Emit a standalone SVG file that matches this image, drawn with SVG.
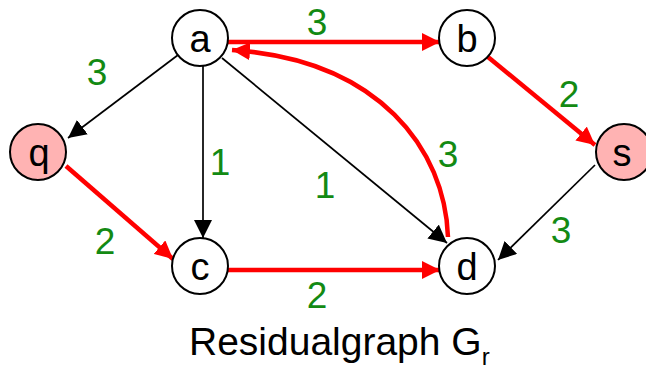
<svg xmlns="http://www.w3.org/2000/svg" width="646" height="373" viewBox="0 0 646 373">
<style>
.node{fill:#fff;stroke:#000;stroke-width:2}
.src{fill:#FFB3B3}
.nl{font-family:"Liberation Sans",Arial,sans-serif;font-size:38px;fill:#000;text-anchor:middle}
.el{font-family:"Liberation Sans",Arial,sans-serif;font-size:37px;fill:#138A13;text-anchor:middle}
.blk{stroke:#000;stroke-width:1.7;fill:none;marker-end:url(#ab)}
.red{stroke:#FF0000;stroke-width:4.5;fill:none;marker-end:url(#ar)}
</style>
<defs>
<marker id="ab" viewBox="0 0 18 18" refX="18" refY="9" markerWidth="18" markerHeight="18" markerUnits="userSpaceOnUse" orient="auto"><path d="M0,0 L18,9 L0,18 z" fill="#000"/></marker>
<marker id="ar" viewBox="0 0 18 18" refX="18" refY="9" markerWidth="18" markerHeight="18" markerUnits="userSpaceOnUse" orient="auto"><path d="M0,0 L18,9 L0,18 z" fill="#FF0000"/></marker>
</defs>
<rect width="646" height="373" fill="#fff"/>
<g id="connectors">
<path class="blk" d="M178,55 L68,138"/>
<path class="blk" d="M203,66 L203,238"/>
<path class="blk" d="M222,58 L447,243"/>
<path class="blk" d="M595,165 L498,260"/>
<path class="red" d="M228,42 L440,42"/>
<path class="red" d="M448,237 C445,150 380,60 232,50"/>
<path class="red" d="M66,166 L173,259"/>
<path class="red" d="M488,57 L595,145"/>
<path class="red" d="M228,270 L440,270"/>
</g>
<g id="labels">
<text class="el" x="317" y="35">3</text>
<text class="el" x="97" y="85">3</text>
<text class="el" x="220" y="175">1</text>
<text class="el" x="105" y="254">2</text>
<text class="el" x="325" y="198">1</text>
<text class="el" x="448" y="167">3</text>
<text class="el" x="569" y="107">2</text>
<text class="el" x="561" y="243">3</text>
<text class="el" x="317" y="308">2</text>
</g>
<g id="node-a"><circle class="node" cx="200" cy="38" r="28"/><text class="nl" x="200" y="52">a</text></g>
<g id="node-b"><circle class="node" cx="467" cy="38" r="28"/><text class="nl" x="467" y="52">b</text></g>
<g id="node-q"><circle class="node src" cx="38" cy="152" r="28"/><text class="nl" x="39" y="166">q</text></g>
<g id="node-s"><circle class="node src" cx="624" cy="152" r="28"/><text class="nl" x="622" y="166">s</text></g>
<g id="node-c"><circle class="node" cx="200" cy="266" r="28"/><text class="nl" x="200" y="280">c</text></g>
<g id="node-d"><circle class="node" cx="467" cy="266" r="28"/><text class="nl" x="467" y="280">d</text></g>
<g id="title"><text font-family="Liberation Sans,Arial,sans-serif" font-size="39" x="189" y="355" fill="#000">Residualgraph G<tspan font-size="24" dy="10">r</tspan></text></g>
</svg>
